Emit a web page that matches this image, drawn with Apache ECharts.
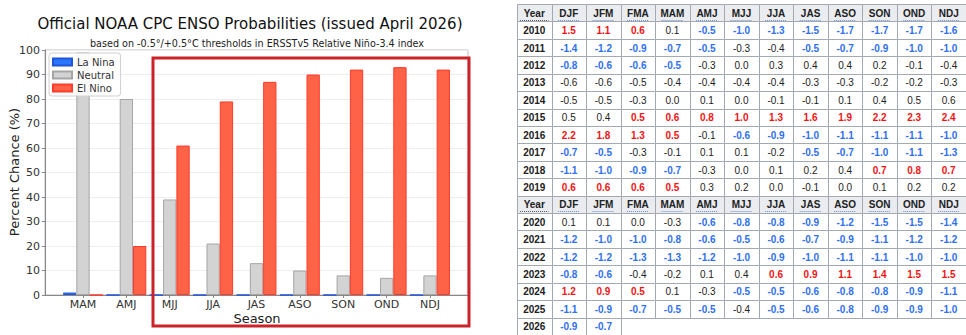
<!DOCTYPE html>
<html><head><meta charset="utf-8">
<script src="https://cdn.jsdelivr.net/npm/echarts@6/dist/echarts.min.js"></script>
<style>html,body{margin:0;padding:0;background:#fff}#c{width:966px;height:335px}</style>
</head><body><div id="c"></div>
<script>
// ---- bar chart data ----
var seasons = ['MAM','AMJ','MJJ','JJA','JAS','ASO','SON','OND','NDJ'];
var laNina  = [1, 0, 0, 0, 0, 0, 0, 0, 0];
var neutral = [99, 80, 39, 21, 13, 10, 8, 7, 8];
var elNino  = [0, 20, 61, 79, 87, 90, 92, 93, 92];
var yTicks  = [0,10,20,30,40,50,60,70,80,90,100];

// ---- ONI table data ----
var oniSeasons = ['DJF','JFM','FMA','MAM','AMJ','MJJ','JJA','JAS','ASO','SON','OND','NDJ'];
var oni2010 = [1.5, 1.1, 0.6, 0.1, -0.5, -1.0, -1.3, -1.5, -1.7, -1.7, -1.7, -1.6];
var oni2011 = [-1.4, -1.2, -0.9, -0.7, -0.5, -0.3, -0.4, -0.5, -0.7, -0.9, -1.0, -1.0];
var oni2012 = [-0.8, -0.6, -0.6, -0.5, -0.3, 0.0, 0.3, 0.4, 0.4, 0.2, -0.1, -0.4];
var oni2013 = [-0.6, -0.6, -0.5, -0.4, -0.4, -0.4, -0.4, -0.3, -0.3, -0.2, -0.2, -0.3];
var oni2014 = [-0.5, -0.5, -0.3, 0.0, 0.1, 0.0, -0.1, -0.1, 0.1, 0.4, 0.5, 0.6];
var oni2015 = [0.5, 0.4, 0.5, 0.6, 0.8, 1.0, 1.3, 1.6, 1.9, 2.2, 2.3, 2.4];
var oni2016 = [2.2, 1.8, 1.3, 0.5, -0.1, -0.6, -0.9, -1.0, -1.1, -1.1, -1.1, -1.0];
var oni2017 = [-0.7, -0.5, -0.3, -0.1, 0.1, 0.1, -0.2, -0.5, -0.7, -1.0, -1.1, -1.3];
var oni2018 = [-1.1, -1.0, -0.9, -0.7, -0.3, 0.0, 0.1, 0.2, 0.4, 0.7, 0.8, 0.7];
var oni2019 = [0.6, 0.6, 0.6, 0.5, 0.3, 0.2, 0.0, -0.1, 0.0, 0.1, 0.2, 0.2];
var oni2020 = [0.1, 0.1, 0.0, -0.3, -0.6, -0.8, -0.8, -0.9, -1.2, -1.5, -1.5, -1.4];
var oni2021 = [-1.2, -1.0, -1.0, -0.8, -0.6, -0.5, -0.6, -0.7, -0.9, -1.1, -1.2, -1.2];
var oni2022 = [-1.2, -1.2, -1.3, -1.3, -1.2, -1.0, -0.9, -1.0, -1.1, -1.1, -1.0, -1.0];
var oni2023 = [-0.8, -0.6, -0.4, -0.2, 0.1, 0.4, 0.6, 0.9, 1.1, 1.4, 1.5, 1.5];
var oni2024 = [1.2, 0.9, 0.5, 0.1, -0.3, -0.5, -0.5, -0.6, -0.8, -0.8, -0.9, -1.1];
var oni2025 = [-1.1, -0.9, -0.7, -0.5, -0.5, -0.4, -0.5, -0.6, -0.8, -0.9, -0.9, -1.0];
var oni2026 = [-0.9, -0.7];
// cells beyond threshold that are not part of an episode (shown in black)
var nonEpisode = ['2013-0','2013-1','2013-2','2014-0','2014-1','2014-10','2014-11','2015-0'];

var block1 = [[2010,oni2010],[2011,oni2011],[2012,oni2012],[2013,oni2013],[2014,oni2014],
              [2015,oni2015],[2016,oni2016],[2017,oni2017],[2018,oni2018],[2019,oni2019]];
var block2 = [[2020,oni2020],[2021,oni2021],[2022,oni2022],[2023,oni2023],[2024,oni2024],
              [2025,oni2025],[2026,oni2026]];

var colNames = ['Year'].concat(oniSeasons);
var rowNames = [];
var cellData = [], cellInfo = [];
var HDR_FONT = 'bold 10px "Liberation Sans", Arial, sans-serif';
function addHeader(r) {
  colNames.forEach(function (n, c) {
    cellData.push([c, r]);
    cellInfo.push({text: n, bg: '#eaecf0', color: '#202122', font: HDR_FONT, header: true, first: c === 0});
  });
}
function addBlock(block) {
  block.forEach(function (yr) {
    var r = rowNames.length; rowNames.push(String(yr[0]));
    cellData.push([0, r]);
    cellInfo.push({text: String(yr[0]), bg: '#ffffff', color: '#202122', font: HDR_FONT});
    yr[1].forEach(function (v, i) {
      var ep = nonEpisode.indexOf(yr[0] + '-' + i) < 0;
      var color = '#222222', font = '10px "Liberation Sans", Arial, sans-serif';
      if (ep && v >= 0.5) { color = '#f01414'; font = HDR_FONT; }
      else if (ep && v <= -0.5) { color = '#2f6ff0'; font = HDR_FONT; }
      cellData.push([i + 1, r]);
      cellInfo.push({text: v.toFixed(1), bg: '#ffffff', color: color, font: font});
    });
  });
}
rowNames.push('hdr1'); addHeader(0);
addBlock(block1);
rowNames.push('hdr2'); addHeader(rowNames.length - 1);
addBlock(block2);

function renderCell(params, api) {
  var info = cellInfo[params.dataIndex];
  var c = api.coord([api.value(0), api.value(1)]);
  var s = api.size([1, 1]);
  var x0 = Math.round(c[0] - s[0] / 2) + 0.5, y0 = Math.round(c[1] - s[1] / 2) + 0.5;
  var x1 = Math.round(c[0] + s[0] / 2) + 0.5, y1 = Math.round(c[1] + s[1] / 2) + 0.5;
  var ch = [
    {type: 'rect', shape: {x: x0, y: y0, width: x1 - x0, height: y1 - y0},
     style: {fill: info.bg, stroke: '#a2a9b1', lineWidth: 1}},
    {type: 'text', style: {text: info.text, x: c[0], y: c[1] + 0.5, align: 'center', verticalAlign: 'middle',
      font: info.font, fill: info.color}}
  ];
  if (info.header) {
    var hw = info.text.length * 6.6 / 2 + 1;
    ch.push({type: 'line', shape: {x1: c[0] - hw, y1: Math.round(c[1] + 7) + 0.5, x2: c[0] + hw, y2: Math.round(c[1] + 7) + 0.5},
      style: {stroke: info.first ? '#555' : '#6b8fd0', lineWidth: 1, lineDash: [1, 1]}});
  }
  return {type: 'group', children: ch};
}

var chart = echarts.init(document.getElementById('c'), null, {renderer: 'svg'});
var FONT = '"DejaVu Sans", sans-serif';
var option = {
  animation: false,
  backgroundColor: '#ffffff',
  graphic: [
    {type: 'text', x: 250, y: 24, style: {text: 'Official NOAA CPC ENSO Probabilities (issued April 2026)',
      align: 'center', verticalAlign: 'middle', font: '15px "DejaVu Sans", sans-serif', fill: '#111'}},
    {type: 'text', x: 257, y: 43, style: {text: 'based on -0.5°/+0.5°C thresholds in ERSSTv5 Relative Niño-3.4 index',
      align: 'center', verticalAlign: 'middle', font: '9.6px "DejaVu Sans", sans-serif', fill: '#222'}},
    {type: 'text', x: 257, y: 318, style: {text: 'Season',
      align: 'center', verticalAlign: 'middle', font: '13px "DejaVu Sans", sans-serif', fill: '#222'}},
    {type: 'text', x: 14, y: 172, rotation: Math.PI / 2, style: {text: 'Percent Chance (%)',
      align: 'center', verticalAlign: 'middle', font: '13px "DejaVu Sans", sans-serif', fill: '#222'}},
    {type: 'rect', z: 100, shape: {x: 153, y: 58, width: 316, height: 268},
      style: {fill: 'none', stroke: '#cc2229', lineWidth: 3}}
  ],
  legend: {
    orient: 'vertical', left: 49, top: 53,
    data: ['La Nina', 'Neutral', 'El Nino'],
    itemWidth: 19, itemHeight: 7, itemGap: 1,
    padding: [3, 6, 2, 3],
    backgroundColor: 'rgba(255,255,255,0.9)', borderColor: '#d0d0d0', borderWidth: 1, borderRadius: 3,
    textStyle: {fontFamily: FONT, fontSize: 10, color: '#333', lineHeight: 12},
    icon: 'rect'
  },
  grid: [
    {left: 45, top: 50, width: 423, height: 245, show: true, borderColor: '#bbbbbb', borderWidth: 1, backgroundColor: 'transparent'},
    {left: 61.3, top: 50, width: 390.4, height: 245},
    {left: 517, top: 4, width: 449, height: 332}
  ],
  xAxis: [
    {gridIndex: 0, type: 'value', min: 0, max: 1, axisLabel: {show: false}, axisTick: {show: false},
      splitLine: {show: false}, axisLine: {show: true, lineStyle: {color: '#888', width: 1}}},
    {gridIndex: 1, type: 'category', data: seasons, axisLine: {show: false},
      axisTick: {show: true, alignWithLabel: true, length: 3, lineStyle: {color: '#888'}},
      axisLabel: {fontFamily: FONT, fontSize: 11, color: '#333', margin: 3, lineHeight: 12}},
    {gridIndex: 2, type: 'category', data: colNames, show: false}
  ],
  yAxis: [
    {gridIndex: 0, type: 'value', min: 0, max: 100, interval: 10,
      axisLine: {show: true, lineStyle: {color: '#888'}},
      axisTick: {show: true, length: 3, lineStyle: {color: '#888'}},
      axisLabel: {fontFamily: FONT, fontSize: 11, color: '#333', margin: 5,
        formatter: function (v) { return yTicks.indexOf(v) >= 0 ? String(v) : ''; }},
      splitLine: {show: true, lineStyle: {color: '#eeeeee'}}},
    {gridIndex: 1, type: 'value', min: 0, max: 100, show: false},
    {gridIndex: 2, type: 'category', data: rowNames, inverse: true, show: false}
  ],
  series: [
    {name: 'La Nina', type: 'bar', xAxisIndex: 1, yAxisIndex: 1, data: laNina, barWidth: 13.3, barGap: '0%',
      itemStyle: {color: '#2b78ff', borderColor: '#1f55d6', borderWidth: 1}},
    {name: 'Neutral', type: 'bar', xAxisIndex: 1, yAxisIndex: 1, data: neutral, barWidth: 13.3, barGap: '0%',
      itemStyle: {color: '#d3d3d3', borderColor: '#a5a5a5', borderWidth: 1}},
    {name: 'El Nino', type: 'bar', xAxisIndex: 1, yAxisIndex: 1, data: elNino, barWidth: 13.3, barGap: '0%',
      itemStyle: {color: '#ff6347', borderColor: '#ff3a2a', borderWidth: 1}},
    {name: 'ONI', type: 'custom', xAxisIndex: 2, yAxisIndex: 2, data: cellData, renderItem: renderCell, silent: true}
  ]
};
chart.setOption(option);
</script>
</body></html>
